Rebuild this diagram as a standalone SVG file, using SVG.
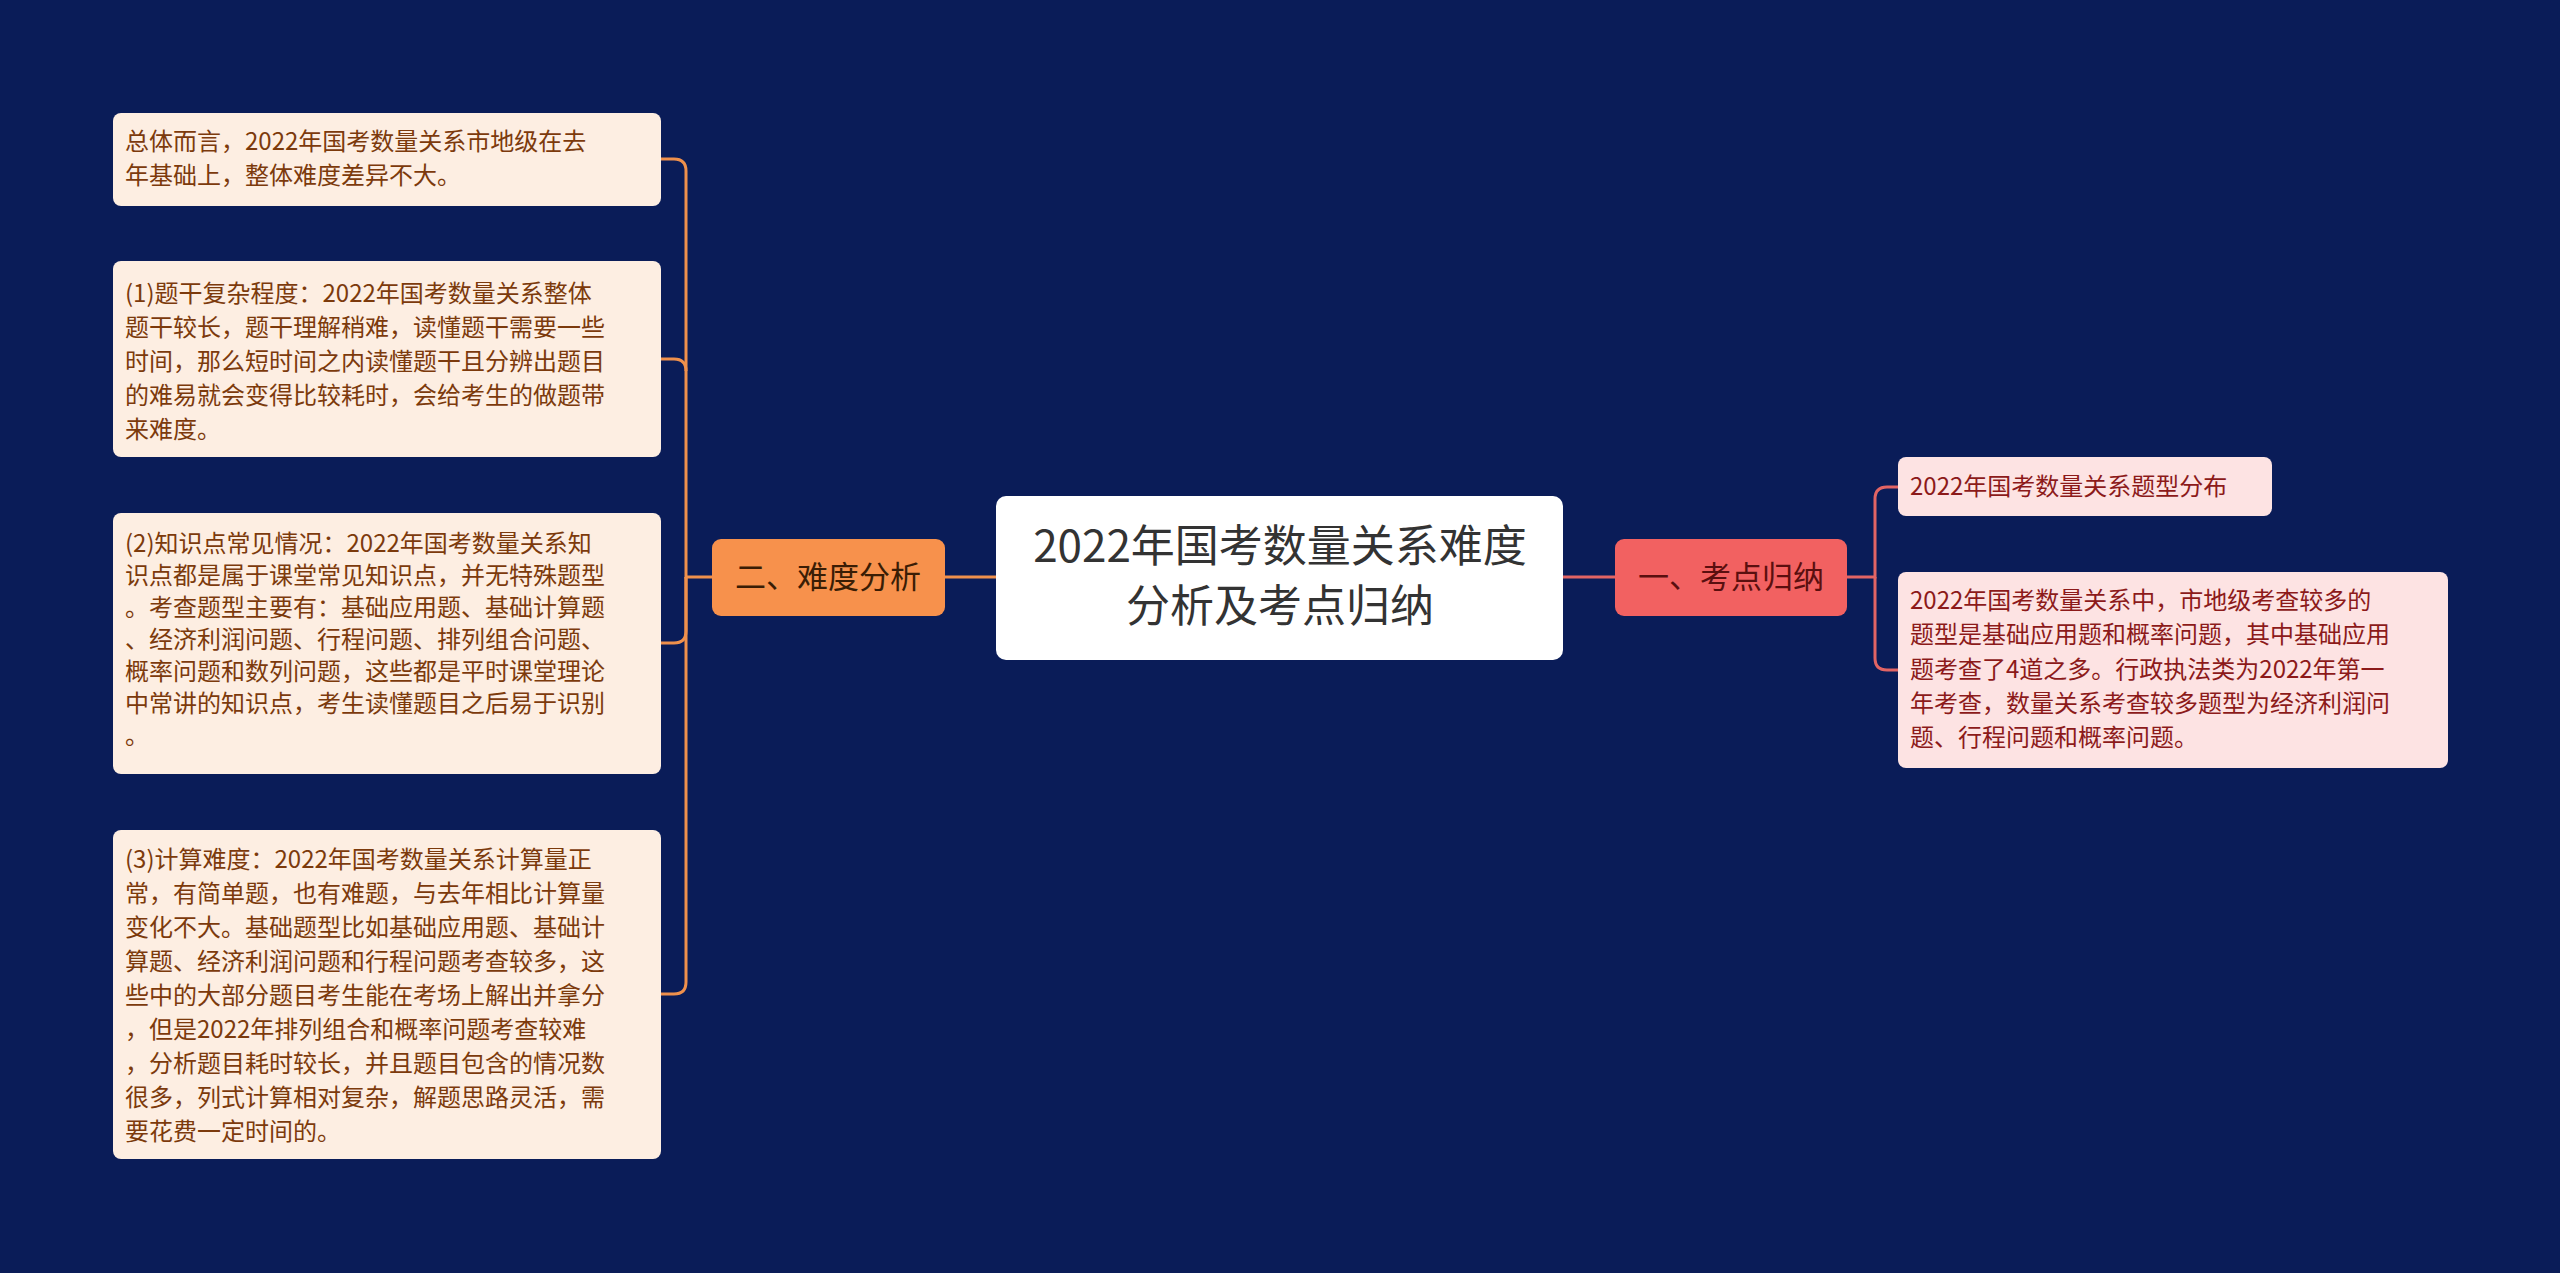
<svg xmlns="http://www.w3.org/2000/svg" width="2560" height="1273" viewBox="0 0 2560 1273">
<style>
text{font-family:"Noto Sans CJK SC","Noto Sans",sans-serif}
.lb{fill:#fdeee2}
.lt{font-size:24px;fill:#7c3a0c}
.rb{fill:#fde3e3}
.rt{font-size:24px;fill:#8c1a1a}
.lc{fill:none;stroke:#ef904c;stroke-width:3}
.rc{fill:none;stroke:#e26464;stroke-width:3}
</style>
<rect width="2560" height="1273" fill="#0a1c58"/>
<g id="connectors">
<path class="lc" d="M945,577 H996"/>
<path class="lc" d="M712,577 H686 V171 Q686,159 674,159 H661"/>
<path class="lc" d="M686,371 Q686,359 674,359 H661"/>
<path class="lc" d="M686,577 V631 Q686,643 674,643 H661"/>
<path class="lc" d="M686,577 V982 Q686,994 674,994 H661"/>
<path class="rc" d="M1563,577 H1615"/>
<path class="rc" d="M1847,577 H1875 V499 Q1875,487 1887,487 H1898"/>
<path class="rc" d="M1875,577 V658 Q1875,670 1887,670 H1898"/>
</g>
<g id="root">
<rect x="996" y="496" width="567" height="164" rx="10" fill="#ffffff"/>
<text x="1280" y="562" font-size="44" fill="#333" text-anchor="middle">2022年国考数量关系难度</text>
<text x="1280" y="622" font-size="44" fill="#333" text-anchor="middle">分析及考点归纳</text>
</g>
<g id="n2">
<rect x="712" y="539" width="233" height="77" rx="9" fill="#f7914c"/>
<text x="828" y="588" font-size="31" fill="#3a1d05" text-anchor="middle">二、难度分析</text>
</g>
<g id="n1">
<rect x="1615" y="539" width="232" height="77" rx="9" fill="#f26161"/>
<text x="1731" y="588" font-size="31" fill="#5a0f0f" text-anchor="middle">一、考点归纳</text>
</g>
<g id="l1">
<rect class="lb" x="113" y="113" width="548" height="93" rx="8"/>
<text class="lt"><tspan x="125" y="150">总体而言，2022年国考数量关系市地级在去</tspan><tspan x="125" y="184">年基础上，整体难度差异不大。</tspan></text>
</g>
<g id="l2">
<rect class="lb" x="113" y="261" width="548" height="196" rx="8"/>
<text class="lt"><tspan x="125" y="302">(1)题干复杂程度：2022年国考数量关系整体</tspan><tspan x="125" y="336">题干较长，题干理解稍难，读懂题干需要一些</tspan><tspan x="125" y="370">时间，那么短时间之内读懂题干且分辨出题目</tspan><tspan x="125" y="404">的难易就会变得比较耗时，会给考生的做题带</tspan><tspan x="125" y="438">来难度。</tspan></text>
</g>
<g id="l3">
<rect class="lb" x="113" y="513" width="548" height="261" rx="8"/>
<text class="lt"><tspan x="125" y="552">(2)知识点常见情况：2022年国考数量关系知</tspan><tspan x="125" y="584">识点都是属于课堂常见知识点，并无特殊题型</tspan><tspan x="125" y="616">。考查题型主要有：基础应用题、基础计算题</tspan><tspan x="125" y="648">、经济利润问题、行程问题、排列组合问题、</tspan><tspan x="125" y="680">概率问题和数列问题，这些都是平时课堂理论</tspan><tspan x="125" y="712">中常讲的知识点，考生读懂题目之后易于识别</tspan><tspan x="125" y="744">。</tspan></text>
</g>
<g id="l4">
<rect class="lb" x="113" y="830" width="548" height="329" rx="8"/>
<text class="lt"><tspan x="125" y="868">(3)计算难度：2022年国考数量关系计算量正</tspan><tspan x="125" y="902">常，有简单题，也有难题，与去年相比计算量</tspan><tspan x="125" y="936">变化不大。基础题型比如基础应用题、基础计</tspan><tspan x="125" y="970">算题、经济利润问题和行程问题考查较多，这</tspan><tspan x="125" y="1004">些中的大部分题目考生能在考场上解出并拿分</tspan><tspan x="125" y="1038">，但是2022年排列组合和概率问题考查较难</tspan><tspan x="125" y="1072">，分析题目耗时较长，并且题目包含的情况数</tspan><tspan x="125" y="1106">很多，列式计算相对复杂，解题思路灵活，需</tspan><tspan x="125" y="1140">要花费一定时间的。</tspan></text>
</g>
<g id="r1">
<rect class="rb" x="1898" y="457" width="374" height="59" rx="8"/>
<text class="rt" x="1910" y="495">2022年国考数量关系题型分布</text>
</g>
<g id="r2">
<rect class="rb" x="1898" y="572" width="550" height="196" rx="8"/>
<text class="rt"><tspan x="1910" y="609">2022年国考数量关系中，市地级考查较多的</tspan><tspan x="1910" y="643">题型是基础应用题和概率问题，其中基础应用</tspan><tspan x="1910" y="678">题考查了4道之多。行政执法类为2022年第一</tspan><tspan x="1910" y="712">年考查，数量关系考查较多题型为经济利润问</tspan><tspan x="1910" y="746">题、行程问题和概率问题。</tspan></text>
</g>
</svg>
